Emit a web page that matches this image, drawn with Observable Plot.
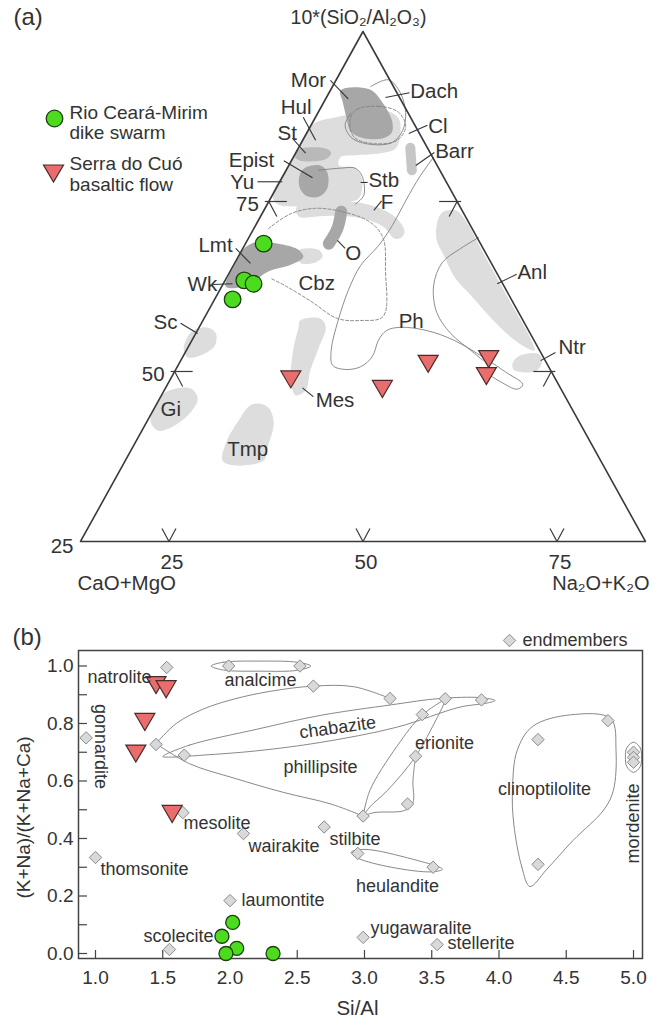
<!DOCTYPE html>
<html><head><meta charset="utf-8">
<script src="https://cdn.jsdelivr.net/npm/d3@7"></script>
<script src="https://cdn.jsdelivr.net/npm/@observablehq/plot@0.6"></script>
<style>
body{margin:0;background:#fff;}
#chart svg{display:block;}
</style></head><body><div id="chart"></div>
<script>
// ================= (a) ternary data (v = Na2O+K2O base scale, S = 10*(SiO2/Al2O3)) =================
const triCorners = [[13.6,25],[50,100],[86.4,25]];
const edgeTicks = [50, 75];
const baseTicks = [25, 50, 75];
const cornerTick = [25];

const rioA = [[37.2,68.8],[34.7,63.4],[35.9,62.9],[33.2,60.6]];
const serraA = [[40.7,49.2],[52.5,47.8],[58.4,51.5],[66.2,52.2],[65.9,49.7]];

const hulRegion = [[44.3,86.8],[46.5,87.4],[49.0,87.9],[52.9,88.4],[54.6,87.2],[54.8,84.7],[54.2,82.8],[52.3,82.1],[49.0,81.8],[47.1,81.5],[46.9,80.3],[49.0,79.9],[49.9,78.1],[49.4,75.4],[47.1,74.9],[43.2,74.4],[39.0,74.6],[38.35,76.0],[40.8,81.0],[43.2,86.0]];
const anlRegion = [[59.5,71.5],[60.2,73.4],[61.9,73.7],[62.8,72.9],[65.8,66.8],[68.9,60.4],[71.7,54.6],[72.1,53.1],[70.6,53.8],[68.4,55.7],[66.0,58.5],[63.9,61.2],[61.9,63.7],[60.4,67.1],[59.5,69.3]];
const ntrBlob = [[69.3,51.3],[70.3,52.4],[72.6,52.6],[73.1,51.6],[72.4,50.1],[70.6,49.9],[69.4,50.3]];
const scBlob = [[27.8,55.7],[29.7,56.5],[31.0,55.7],[30.9,53.8],[29.1,52.4],[27.4,52.1],[26.9,53.4]];
const giBlob = [[24.5,46.9],[27.8,47.5],[28.7,46.0],[27.8,44.0],[25.8,42.1],[23.6,41.3],[22.6,42.8],[23.3,45.0]];
const tmpBlob = [[36.4,45.3],[37.8,44.7],[38.5,42.4],[37.7,38.8],[37.2,36.9],[33.3,36.2],[31.9,36.9],[32.5,39.9],[34.2,43.2],[35.3,44.9]];
const mesBlob = [[41.9,57.5],[44.5,57.8],[45.2,56.5],[44.3,53.5],[43.2,50.1],[42.6,47.2],[41.3,46.5],[40.7,48.7],[41.0,53.1],[41.7,56.5]];
const lmtTongue = [[41.7,67.8],[44.3,67.9],[44.8,66.9],[43.8,66.0],[41.9,66.0]];
const fBand = [[42.3,73.7],[45.8,74.0],[49.0,73.8],[51.6,73.1],[53.5,71.9],[54.4,70.6]];
const stBlob = [[41.6,82.6],[45.2,82.8],[45.9,82.2],[45.3,81.3],[41.9,81.0],[41.2,81.6]];
const barrBand = [[56.1,82.9],[56.3,79.6]];
const morBlob = [[47.1,91.3],[49.0,91.8],[51.2,91.3],[52.3,89.9],[53.3,88.1],[53.8,86.6],[53.7,85.1],[52.6,84.3],[50.1,84.3],[48.4,85.3],[47.9,87.2],[47.4,89.6]];
const epistBlob = [[42.6,80.0],[44.5,80.3],[45.4,79.3],[45.4,76.9],[44.3,75.7],[42.6,75.9],[41.8,77.2],[41.9,79.1]];
const lmtBlob = [[33.6,66.0],[34.5,67.9],[36.1,69.0],[39.1,68.8],[41.7,67.9],[42.3,66.8],[40.7,65.7],[37.8,64.7],[36.1,63.4],[34.2,62.4],[32.3,62.5]];
const oBand = [[47.2,73.5],[46.7,71.0],[45.6,68.8]];

const outlineA = [[51.0,91.9],[53.3,92.9],[54.8,91.0],[55.5,88.1],[55.1,85.4],[53.8,83.7],[51.0,83.4],[48.6,84.3],[47.7,86.2],[48.4,88.0]];
const dashB = [[49.0,88.4],[52.0,89.0],[54.6,88.1],[55.5,86.0],[54.4,84.0],[51.6,83.5],[48.9,84.4],[48.3,86.6]];
const stbLine = [[44.3,79.6],[47.1,79.9],[49.0,79.9],[49.9,78.7],[50.1,75.9],[49.0,74.6]];
const phLine = [[59.1,81.5],[57.4,78.8],[55.5,75.1],[53.8,71.5],[52.0,68.5],[49.7,65.6],[48.1,61.9],[46.8,57.5],[45.9,53.1],[46.1,50.9],[47.7,50.3],[49.7,50.7],[51.2,52.2],[52.0,54.6],[53.0,56.0],[54.8,56.5],[58.3,56.0],[61.7,54.6],[65.5,52.1],[68.4,49.9],[70.6,48.1],[69.9,47.4],[67.7,48.5],[65.5,50.1]];
const anlLine = [[64.9,69.7],[62.6,68.1],[60.2,66.0],[59.1,62.6],[59.5,58.7],[61.3,55.6],[63.9,53.1],[65.5,51.6]];
const cbzDash = [[37.8,71.0],[40.7,73.2],[43.9,74.0],[47.7,73.4],[51.0,71.9],[52.6,69.6],[52.9,64.9],[52.6,58.1],[49.7,57.5],[46.7,57.8],[43.2,60.4],[40.0,62.6],[38.1,63.7]];

const labelsA = [
 {t:"Mor",v:40.7,s:92.8},{t:"Hul",v:39.4,s:88.8},{t:"St",v:39.0,s:85.0},{t:"Epist",v:32.7,s:81.0},
 {t:"Yu",v:32.9,s:77.8},{t:"Lmt",v:28.8,s:68.5},{t:"Wk",v:27.4,s:62.8},{t:"Sc",v:23.0,s:57.2},
 {t:"Gi",v:23.9,s:44.4},{t:"Tmp",v:32.5,s:38.5},{t:"Mes",v:43.9,s:45.7},{t:"Cbz",v:41.7,s:62.9},
 {t:"O",v:47.7,s:67.4},{t:"Stb",v:50.7,s:78.1},{t:"F",v:52.3,s:74.9},{t:"Dach",v:56.1,s:91.2},
 {t:"Cl",v:58.4,s:86.0},{t:"Barr",v:59.3,s:82.4},{t:"Anl",v:69.9,s:64.6},{t:"Ph",v:54.6,s:57.4},
 {t:"Ntr",v:75.2,s:53.5}
];
const leadersA = [
 [45.8,92.8,48.1,90.1],[42.3,87.4,43.9,84.0],[40.9,84.3,42.6,82.1],[39.8,81.0,43.5,78.5],
 [36.4,77.9,39.6,77.9],[33.6,68.1,35.5,65.9],[30.7,62.8,33.2,62.9],[26.5,57.1,28.7,55.6],
 [42.2,47.6,43.6,46.3],[46.7,69.3,47.7,68.1],[49.7,77.8,50.6,77.8],[51.4,73.7,52.4,75.1],
 [52.9,90.3,56.0,91.0],[55.9,85.0,58.3,86.2],[56.8,80.3,59.2,82.2],[67.3,62.9,69.8,64.3],
 [72.9,51.6,74.8,52.8]
];

// ================= (b) data =================
const xTicksB = [1.0,1.5,2.0,2.5,3.0,3.5,4.0,4.5,5.0];
const yTicksB = [0,0.1,0.2,0.3,0.4,0.5,0.6,0.7,0.8,0.9,1.0];
const yLabelsB = [0,0.2,0.4,0.6,0.8,1.0];
const endmembers = [[1.53,0.995],[1.99,1.0],[2.52,1.0],[2.62,0.93],[0.93,0.75],[1.45,0.727],[1.66,0.69],[3.19,0.887],[3.60,0.886],[3.87,0.882],[3.43,0.831],[3.38,0.686],[3.32,0.52],[2.99,0.478],[4.29,0.744],[4.81,0.81],[4.29,0.31],[5.0,0.70],[5.0,0.682],[5.0,0.665],[1.65,0.49],[2.10,0.417],[2.70,0.44],[2.95,0.348],[3.51,0.30],[1.0,0.334],[2.0,0.184],[1.55,0.014],[2.99,0.056],[3.54,0.031]];
const serraB = [[1.45,0.942],[1.525,0.928],[1.367,0.814],[1.30,0.704],[1.57,0.494]];
const rioB = [[2.02,0.108],[1.94,0.06],[2.05,0.018],[1.97,0.0],[2.32,0.0]];

const analcimeEnv = [[1.86,1.0],[1.95,1.013],[2.23,1.017],[2.5,1.013],[2.6,1.0],[2.5,0.985],[2.23,0.982],[1.95,0.986]];
const phillipsiteUp = [[1.45,0.73],[1.6,0.80],[1.8,0.85],[2.03,0.885],[2.3,0.912],[2.62,0.93],[2.92,0.928],[3.19,0.887]];
const phillipsiteLow = [[1.45,0.73],[1.7,0.66],[2.03,0.61],[2.4,0.56],[2.75,0.52],[2.99,0.478]];
const chabaziteEnv = [[1.50,0.685],[1.7,0.725],[2.2,0.78],[2.67,0.828],[3.2,0.865],[3.56,0.887],[3.86,0.89],[3.97,0.88],[3.91,0.871],[3.71,0.857],[3.24,0.787],[2.67,0.734],[2.2,0.705],[1.8,0.69],[1.55,0.683]];
const erioniteL = [[2.99,0.478],[3.04,0.567],[3.24,0.72],[3.43,0.83],[3.61,0.887]];
const erioniteR = [[3.61,0.887],[3.54,0.82],[3.38,0.686],[3.17,0.567],[3.04,0.51],[2.99,0.478]];
const erioniteTail = [[3.38,0.686],[3.36,0.60],[3.36,0.525],[3.3,0.498],[3.07,0.49],[2.99,0.478]];
const heulanditeEnv = [[2.9,0.352],[3.0,0.362],[3.3,0.335],[3.58,0.293],[3.5,0.284],[3.2,0.30],[2.95,0.332]];
const clinoEnv = [[4.23,0.233],[4.17,0.30],[4.11,0.45],[4.10,0.567],[4.135,0.706],[4.25,0.79],[4.53,0.83],[4.83,0.817],[4.87,0.706],[4.85,0.567],[4.78,0.50],[4.55,0.393],[4.35,0.29]];
const mordeniteEnv = [[5.0,0.735],[5.05,0.715],[5.06,0.683],[5.05,0.65],[5.0,0.63],[4.95,0.65],[4.94,0.683],[4.95,0.715]];

const labelsB = [
 {t:"natrolite",x:0.94,y:0.96,a:"start"},{t:"analcime",x:2.227,y:0.95,a:"middle"},
 {t:"chabazite",x:2.80,y:0.786,a:"middle",r:-8},{t:"phillipsite",x:2.673,y:0.647,a:"middle"},
 {t:"erionite",x:3.595,y:0.73,a:"middle"},{t:"clinoptilolite",x:4.338,y:0.57,a:"middle"},
 {t:"gonnardite",x:1.037,y:0.72,a:"middle",r:90},{t:"mordenite",x:5.0,y:0.452,a:"middle",r:-90},
 {t:"mesolite",x:1.654,y:0.452,a:"start"},{t:"wairakite",x:2.138,y:0.372,a:"start"},
 {t:"stilbite",x:2.74,y:0.397,a:"start"},{t:"heulandite",x:3.245,y:0.233,a:"middle"},
 {t:"thomsonite",x:1.037,y:0.292,a:"start"},{t:"laumontite",x:2.085,y:0.184,a:"start"},
 {t:"scolecite",x:1.877,y:0.059,a:"end"},{t:"yugawaralite",x:3.045,y:0.087,a:"start"},
 {t:"stellerite",x:3.617,y:0.035,a:"start"}
];

// ================= drawing =================
const FONT = "'Liberation Sans', Arial, sans-serif";
const TXT = "#333";
const LIGHT = "#dddddd", MED = "#b9b9b9", DARK = "#a7a7a7";
const GREEN = "#4cdb1f", RED = "#ea6d6d";

const invTri = {draw(ctx, size){ const r = Math.sqrt(size/Math.PI); ctx.moveTo(-r,-0.6*r); ctx.lineTo(r,-0.6*r); ctx.lineTo(0,1.1*r); ctx.closePath(); }};
const diam = {draw(ctx, size){ const r = Math.sqrt(size/Math.PI); ctx.moveTo(0,-r); ctx.lineTo(r,0); ctx.lineTo(0,r); ctx.lineTo(-r,0); ctx.closePath(); }};

const X = d => d[0], Y = d => d[1];
const blob = (pts, fill) => Plot.line(pts, {x:X, y:Y, curve:"catmull-rom-closed", fill, stroke:"none"});
const band = (pts, color, w) => Plot.line(pts, {x:X, y:Y, curve:"catmull-rom", stroke:color, strokeWidth:w, strokeLinecap:"round"});
const thin = (pts, opts={}) => Plot.line(pts, {x:X, y:Y, curve:"catmull-rom", stroke:"#808080", strokeWidth:0.9, ...opts});
// frame-anchored text helper (explicit anchors so Plot's frame-based defaults do not shift it)
const note = (s, o) => Plot.text([s], {text:d=>d, lineAnchor:"middle", fill:TXT, ...o});

const PXV = 7.76, PXS = 6.8;
const vL = s => 13.6 + (s-25)*(36.4/75);
const vR = s => 86.4 - (s-25)*(36.4/75);
const tickSegs = [];
edgeTicks.forEach(s => {
  tickSegs.push([vL(s)-4/PXV, s, vL(s)+18/PXV, s]);
  tickSegs.push([vL(s), s, vL(s)+8/PXV, s-15/PXS]);
  tickSegs.push([vR(s)+4/PXV, s, vR(s)-18/PXV, s]);
  tickSegs.push([vR(s), s, vR(s)-8/PXV, s-15/PXS]);
});
baseTicks.forEach(v => { tickSegs.push([v,25,v-7/PXV,25+13/PXS]); tickSegs.push([v,25,v+7/PXV,25+13/PXS]); });

const fsA = 20.5;
const plotA = Plot.plot({
  width:651, height:605, margin:0,
  x:{domain:[3.29,87.18], axis:null},
  y:{domain:[15.585,104.56], axis:null},
  style:{fontFamily:FONT, background:"white"},
  marks:[
    blob(hulRegion, LIGHT), blob(anlRegion, LIGHT), blob(ntrBlob, LIGHT), blob(scBlob, LIGHT),
    blob(giBlob, LIGHT), blob(tmpBlob, LIGHT), blob(mesBlob, LIGHT), blob(lmtTongue, LIGHT),
    band(fBand, LIGHT, 15),
    blob(stBlob, MED), band(barrBand, "#c6c6c6", 10),
    blob(morBlob, DARK), blob(epistBlob, DARK), blob(lmtBlob, DARK), band(oBand, DARK, 12),
    thin(outlineA), Plot.line(dashB, {x:X,y:Y,curve:"catmull-rom-closed",stroke:"#808080",strokeWidth:0.9,strokeDasharray:"3,2"}),
    thin(stbLine), thin(phLine), thin(anlLine), thin(cbzDash, {strokeDasharray:"3,2"}),
    Plot.line(triCorners, {x:X, y:Y, curve:"linear-closed", stroke:"#3a3a3a", strokeWidth:1.6}),
    Plot.link(tickSegs, {x1:d=>d[0], y1:d=>d[1], x2:d=>d[2], y2:d=>d[3], stroke:"#3a3a3a", strokeWidth:1.2}),
    Plot.link(leadersA, {x1:d=>d[0], y1:d=>d[1], x2:d=>d[2], y2:d=>d[3], stroke:"#333", strokeWidth:1.1}),
    Plot.text(labelsA, {x:"v", y:"s", text:"t", textAnchor:"start", fontSize:fsA, fill:TXT}),
    Plot.text(edgeTicks, {x:s=>vL(s), y:s=>s, text:s=>String(s), dx:-10, dy:3, textAnchor:"end", fontSize:fsA, fill:TXT}),
    Plot.text(cornerTick, {x:s=>vL(s), y:s=>s, text:s=>String(s), dx:-7, dy:5, textAnchor:"end", fontSize:fsA, fill:TXT}),
    Plot.text(baseTicks, {x:v=>v, y:()=>25, text:v=>String(v), dx:3, dy:21, fontSize:fsA, fill:TXT}),
    Plot.dot(rioA, {x:X, y:Y, r:8.3, fill:GREEN, stroke:"#1e3d10", strokeWidth:1.3}),
    Plot.dot(serraA, {x:X, y:Y, r:10, symbol:invTri, fill:RED, stroke:"#4a2a2a", strokeWidth:1.2}),
    // titles / axis names / legend
    note("(a)", {frameAnchor:"top-left", dx:13, dy:17, textAnchor:"start", fontSize:24}),
    note("10*(SiO₂/Al₂O₃)", {frameAnchor:"top-left", dx:358, dy:17, textAnchor:"middle", fontSize:19.5}),
    note("CaO+MgO", {frameAnchor:"top-left", dx:77, dy:583, textAnchor:"start", fontSize:20.5}),
    note("Na₂O+K₂O", {frameAnchor:"top-left", dx:649, dy:583, textAnchor:"end", fontSize:20}),
    Plot.dot([0], {frameAnchor:"top-left", dx:54, dy:118, r:8.3, fill:GREEN, stroke:"#1e3d10", strokeWidth:1.3}),
    Plot.dot([0], {frameAnchor:"top-left", dx:53, dy:170.5, r:10, symbol:invTri, fill:RED, stroke:"#4a2a2a", strokeWidth:1.2}),
    note("Rio Ceará-Mirim\ndike swarm", {frameAnchor:"top-left", dx:69, dy:122, textAnchor:"start", lineHeight:1.07, fontSize:19}),
    note("Serra do Cuó\nbasaltic flow", {frameAnchor:"top-left", dx:69, dy:173.5, textAnchor:"start", lineHeight:1.07, fontSize:19})
  ]
});

const env = (pts, closed) => Plot.line(pts, {x:X, y:Y, curve: closed ? "catmull-rom-closed" : "catmull-rom", stroke:"#7a7a7a", strokeWidth:0.9});
const fsB = 18;
const plotB = Plot.plot({
  width:651, height:415, marginLeft:78, marginRight:9, marginTop:45, marginBottom:62,
  x:{domain:[0.8736,5.0669], axis:null},
  y:{domain:[-0.0174,1.0539], axis:null},
  style:{fontFamily:FONT, background:"white"},
  marks:[
    env(analcimeEnv,true), env(phillipsiteUp,false), env(phillipsiteLow,false), env(chabaziteEnv,true),
    env(erioniteL,false), env(erioniteR,false), env(erioniteTail,false), env(heulanditeEnv,true),
    env(clinoEnv,true), env(mordeniteEnv,true),
    Plot.tickX(xTicksB, {x:d=>d, insetTop:300, stroke:"#444", strokeWidth:1.2}),
    Plot.tickY(yTicksB, {y:d=>d, insetRight:555, stroke:"#444", strokeWidth:1.2}),
    Plot.frame({stroke:"#444", strokeWidth:1.5}),
    Plot.text(xTicksB, {x:d=>d, text:d=>d.toFixed(1), frameAnchor:"bottom", lineAnchor:"middle", textAnchor:"middle", dy:19, fontSize:19, fill:TXT}),
    Plot.text(yLabelsB, {y:d=>d, text:d=>d.toFixed(1), frameAnchor:"left", lineAnchor:"middle", dx:-5, textAnchor:"end", fontSize:19, fill:TXT}),
    Plot.dot(endmembers, {x:X, y:Y, r:6.2, symbol:diam, fill:"#d9d9d9", stroke:"#8a8a8a", strokeWidth:1}),
    Plot.dot(serraB, {x:X, y:Y, r:10, symbol:invTri, fill:RED, stroke:"#4a2a2a", strokeWidth:1.2}),
    Plot.dot(rioB, {x:X, y:Y, r:7, fill:GREEN, stroke:"#1e3d10", strokeWidth:1.3}),
    Plot.text(labelsB.filter(d=>d.a==="start"), {x:"x", y:"y", text:"t", textAnchor:"start", fontSize:fsB, fill:TXT}),
    Plot.text(labelsB.filter(d=>d.a==="end"), {x:"x", y:"y", text:"t", textAnchor:"end", fontSize:fsB, fill:TXT}),
    Plot.text(labelsB.filter(d=>d.a==="middle"), {x:"x", y:"y", text:"t", rotate:d=>d.r||0, textAnchor:"middle", fontSize:fsB, fill:TXT}),
    note("(b)", {frameAnchor:"top-left", dx:-66, dy:-13, textAnchor:"start", fontSize:24}),
    Plot.dot([0], {frameAnchor:"top-left", dx:431, dy:-10, r:6.2, symbol:diam, fill:"#d9d9d9", stroke:"#8a8a8a", strokeWidth:1}),
    note("endmembers", {frameAnchor:"top-left", dx:444, dy:-10, textAnchor:"start", fontSize:fsB}),
    note("(K+Na)/(K+Na+Ca)", {frameAnchor:"left", dx:-55, dy:13, rotate:-90, textAnchor:"middle", fontSize:19}),
    note("Si/Al", {frameAnchor:"bottom", dx:-3, dy:50, textAnchor:"middle", fontSize:20.5})
  ]
});

const root = document.getElementById("chart");
root.appendChild(plotA);
root.appendChild(plotB);
</script></body></html>
